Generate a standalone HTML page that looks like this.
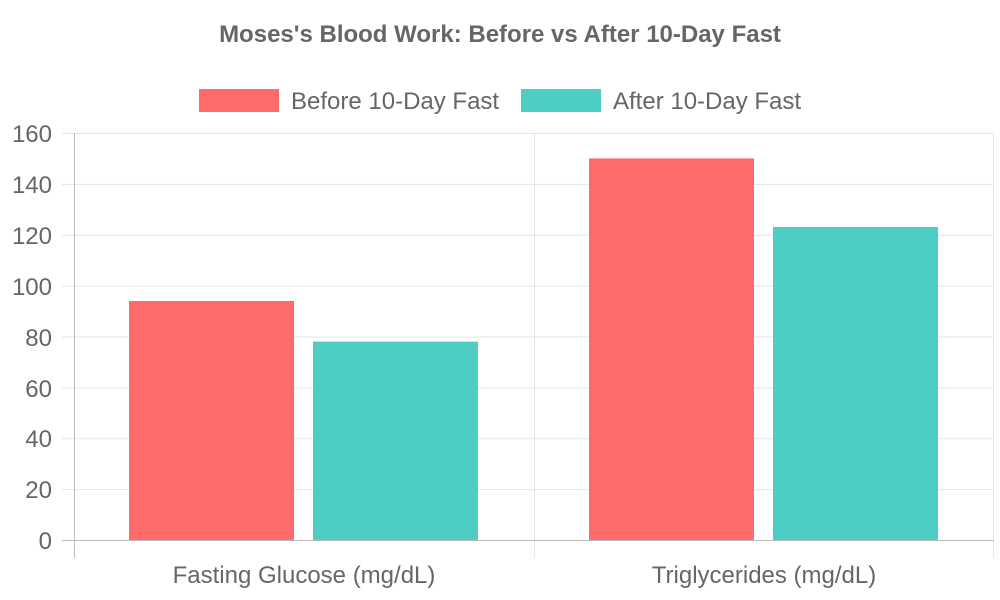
<!DOCTYPE html>
<html><head><meta charset="utf-8"><style>
html,body{margin:0;padding:0;background:#fff;}
svg{display:block;font-family:"Liberation Sans",sans-serif;}
</style></head><body>
<svg width="1000" height="600" xmlns="http://www.w3.org/2000/svg">
<rect width="1000" height="600" fill="#fff"/>
<text x="500" y="42" text-anchor="middle" font-size="24" font-weight="bold" fill="#666">Moses's Blood Work: Before vs After 10-Day Fast</text>
<rect x="199" y="89" width="80" height="23" fill="#FF6B6B"/>
<text x="291" y="109" font-size="24" fill="#666">Before 10-Day Fast</text>
<rect x="521" y="89" width="80" height="23" fill="#4ECDC4"/>
<text x="613" y="109" font-size="24" fill="#666">After 10-Day Fast</text>
<g stroke="#e5e5e5" stroke-width="1">
<line x1="62" x2="994" y1="133.5" y2="133.5"/>
<line x1="62" x2="994" y1="184.4" y2="184.4"/>
<line x1="62" x2="994" y1="235.3" y2="235.3"/>
<line x1="62" x2="994" y1="286.1" y2="286.1"/>
<line x1="62" x2="994" y1="337" y2="337"/>
<line x1="62" x2="994" y1="387.9" y2="387.9"/>
<line x1="62" x2="994" y1="438.8" y2="438.8"/>
<line x1="62" x2="994" y1="489.6" y2="489.6"/>
<line x1="534.5" x2="534.5" y1="133" y2="558"/>
<line x1="993.5" x2="993.5" y1="133" y2="558"/>
</g>
<line x1="74.5" x2="74.5" y1="133" y2="558" stroke="#bbb"/>
<line x1="62" x2="994" y1="540.5" y2="540.5" stroke="#bbb"/>
<rect x="129" y="301" width="165" height="239" fill="#FF6B6B"/>
<rect x="313" y="341.6" width="165" height="198.4" fill="#4ECDC4"/>
<rect x="589" y="158.4" width="165" height="381.6" fill="#FF6B6B"/>
<rect x="773" y="227" width="165" height="313" fill="#4ECDC4"/>
<g font-size="24" fill="#666" text-anchor="end">
<text x="52" y="142">160</text>
<text x="52" y="193">140</text>
<text x="52" y="244">120</text>
<text x="52" y="295">100</text>
<text x="52" y="346">80</text>
<text x="52" y="397">60</text>
<text x="52" y="447">40</text>
<text x="52" y="498">20</text>
<text x="52" y="549">0</text>
</g>
<g font-size="24" fill="#666" text-anchor="middle">
<text x="304" y="583">Fasting Glucose (mg/dL)</text>
<text x="764" y="583">Triglycerides (mg/dL)</text>
</g>
</svg>
</body></html>
